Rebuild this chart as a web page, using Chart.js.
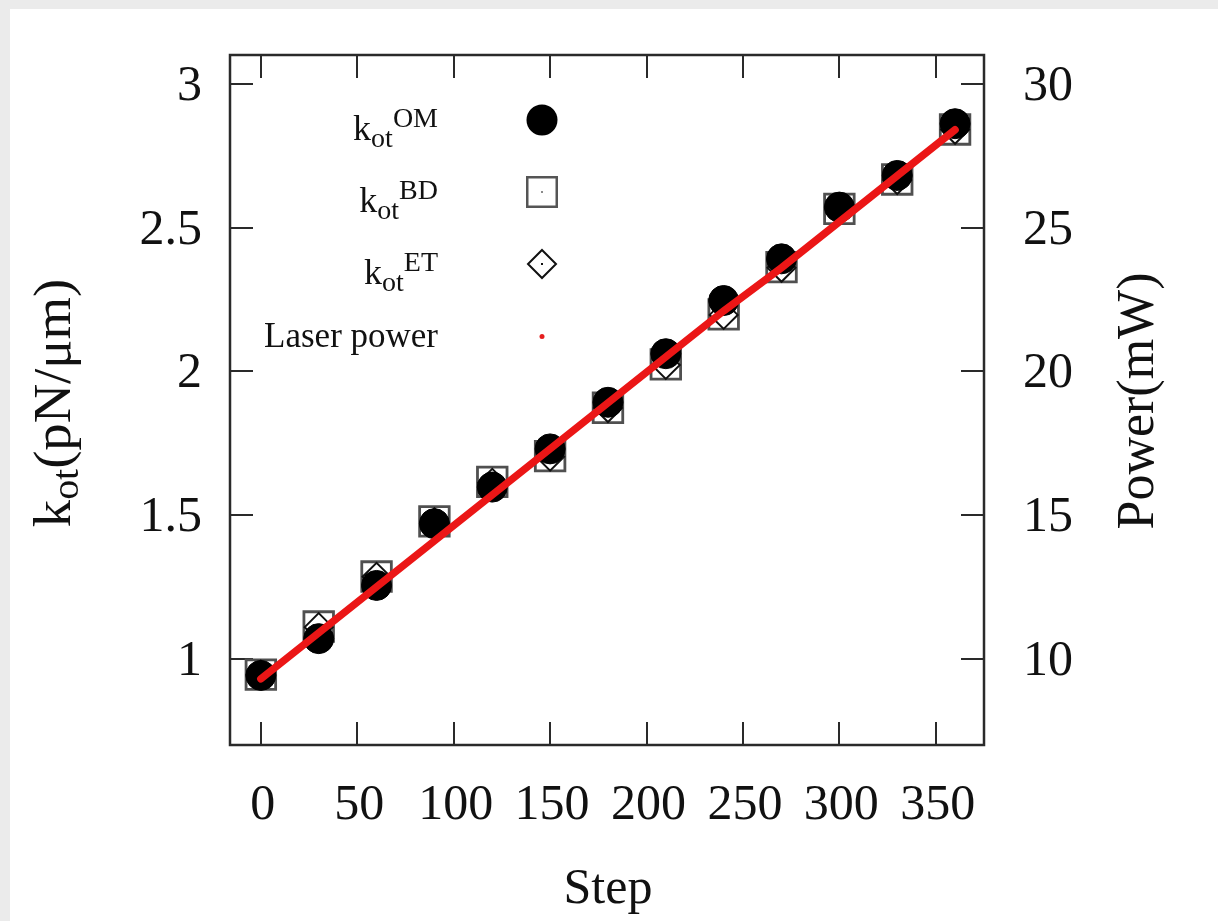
<!DOCTYPE html>
<html><head><meta charset="utf-8">
<script src="https://cdn.jsdelivr.net/npm/chart.js@4.4.0/dist/chart.umd.min.js"></script>
<style>html,body{margin:0;padding:0;background:#fff;overflow:hidden}canvas{display:block}</style>
</head><body>
<canvas id="c" width="1218" height="921"></canvas>
<script>
// ---- data ----
const steps = [0, 30, 60, 90, 120, 150, 180, 210, 240, 270, 300, 330, 360];
const kOM = [0.942, 1.07, 1.255, 1.47, 1.597, 1.73, 1.892, 2.061, 2.246, 2.391, 2.571, 2.681, 2.861];
const kBD = [0.945, 1.112, 1.286, 1.478, 1.615, 1.705, 1.873, 2.024, 2.198, 2.362, 2.565, 2.667, 2.841];
const kET = [0.945, 1.11, 1.285, 1.475, 1.612, 1.703, 1.872, 2.022, 2.196, 2.36, 2.565, 2.665, 2.84];
const laserPower = [9.3, 10.9, 12.5, 14.1, 15.7, 17.3, 18.9, 20.5, 22.1, 23.6, 25.2, 26.8, 28.4];
const xTicks = [0, 50, 100, 150, 200, 250, 300, 350];
const yTicks = [1, 1.5, 2, 2.5, 3];
const y2Ticks = [10, 15, 20, 25, 30];
const xTitle = 'Step';
const y2Title = 'Power(mW)';
const legendNames = ['OM', 'BD', 'ET'];
const laserLabel = 'Laser power';

const SERIF = '"Liberation Serif", "Times New Roman", serif';
const pts = (ys) => steps.map((s, i) => ({x: s, y: ys[i]}));

function richWidth(ctx, parts) {
  let w = 0;
  for (const p of parts) { ctx.font = p.size + 'px ' + SERIF; w += ctx.measureText(p.t).width; }
  return w;
}
function drawRich(ctx, parts, x, y, align) {
  const w = richWidth(ctx, parts);
  let cx = align === 'right' ? x - w : (align === 'center' ? x - w / 2 : x);
  ctx.textAlign = 'left';
  ctx.textBaseline = 'alphabetic';
  for (const p of parts) {
    ctx.font = p.size + 'px ' + SERIF;
    ctx.fillText(p.t, cx, y + (p.dy || 0));
    cx += ctx.measureText(p.t).width;
  }
}

const framePlugin = {
  id: 'frame',
  beforeDraw(chart) {
    const ctx = chart.ctx;
    ctx.save();
    ctx.fillStyle = '#ebebeb';
    ctx.fillRect(0, 0, chart.width, chart.height);
    ctx.fillStyle = '#ffffff';
    ctx.fillRect(10, 9, chart.width - 10, chart.height - 9);
    ctx.restore();
  },
  beforeDatasetsDraw(chart) {
    const ctx = chart.ctx, a = chart.chartArea;
    const sx = chart.scales.x, sy = chart.scales.y, sy2 = chart.scales.y2;
    const T = 23;
    ctx.save();
    ctx.strokeStyle = '#2a2a2a';
    ctx.lineWidth = 2;
    ctx.beginPath();
    for (const v of xTicks) {
      const px = Math.round(sx.getPixelForValue(v));
      ctx.moveTo(px, a.bottom); ctx.lineTo(px, a.bottom - T);
      ctx.moveTo(px, a.top); ctx.lineTo(px, a.top + T);
    }
    for (const v of yTicks) {
      const py = Math.round(sy.getPixelForValue(v));
      ctx.moveTo(a.left, py); ctx.lineTo(a.left + T, py);
    }
    for (const v of y2Ticks) {
      const py = Math.round(sy2.getPixelForValue(v));
      ctx.moveTo(a.right, py); ctx.lineTo(a.right - T, py);
    }
    ctx.stroke();
    ctx.lineWidth = 2.5;
    ctx.strokeRect(a.left, a.top, a.right - a.left, a.bottom - a.top);
    ctx.restore();
  },
  afterDraw(chart) {
    const ctx = chart.ctx, a = chart.chartArea;
    ctx.save();
    ctx.fillStyle = '#111';
    // x title
    drawRich(ctx, [{t: xTitle, size: 50}], (a.left + a.right) / 2 + 1, 903, 'center');
    // left title
    ctx.save();
    ctx.translate(70, (a.top + a.bottom) / 2 + 3);
    ctx.rotate(-Math.PI / 2);
    ctx.scale(1.05, 1);
    drawRich(ctx, [{t: 'k', size: 52}, {t: 'ot', size: 38, dy: 8}, {t: '(pN/\u03BCm)', size: 52}], 0, 0, 'center');
    ctx.restore();
    // right title
    ctx.save();
    ctx.translate(1153, (a.top + a.bottom) / 2 + 1);
    ctx.rotate(-Math.PI / 2);
    drawRich(ctx, [{t: y2Title, size: 52}], 0, 0, 'center');
    ctx.restore();

    // legend
    const tx = 438, mx = 542;
    const rows = [120, 192, 264, 336.5];
    for (let i = 0; i < 3; i++) {
      drawRich(ctx, [{t: 'k', size: 36}, {t: 'ot', size: 28, dy: 7}, {t: legendNames[i], size: 28, dy: -13}], tx, rows[i] + 20, 'right');
    }
    drawRich(ctx, [{t: laserLabel, size: 35}], tx, rows[3] + 10, 'right');
    // legend markers
    ctx.fillStyle = '#000';
    ctx.beginPath(); ctx.arc(mx, rows[0], 15.5, 0, Math.PI * 2); ctx.fill();
    ctx.strokeStyle = '#555'; ctx.lineWidth = 2.5;
    ctx.strokeRect(mx - 14.75, rows[1] - 14.75, 29.5, 29.5);
    ctx.fillStyle = '#333'; ctx.fillRect(mx - 0.75, rows[1] - 0.75, 1.5, 1.5);
    ctx.strokeStyle = '#111'; ctx.lineWidth = 2;
    ctx.beginPath();
    ctx.moveTo(mx, rows[2] - 14); ctx.lineTo(mx + 14, rows[2]); ctx.lineTo(mx, rows[2] + 14); ctx.lineTo(mx - 14, rows[2]); ctx.closePath();
    ctx.stroke();
    ctx.fillStyle = '#111'; ctx.fillRect(mx - 1, rows[2] - 1, 2, 2);
    ctx.fillStyle = 'rgb(230,30,30)';
    ctx.beginPath(); ctx.arc(mx, rows[3], 2.5, 0, Math.PI * 2); ctx.fill();
    ctx.restore();
  }
};

const noPad = s => { s.paddingTop = 0; s.paddingBottom = 0; s.paddingLeft = 0; s.paddingRight = 0; };
const tickFont = {family: SERIF, size: 50};
new Chart(document.getElementById('c'), {
  type: 'scatter',
  data: {
    datasets: [
      {label: 'kotBD', data: pts(kBD), yAxisID: 'y', order: 4, pointStyle: 'rect', pointRadius: 20.9, pointHoverRadius: 20.9,
       borderColor: '#505050', backgroundColor: 'rgba(0,0,0,0)', borderWidth: 2.8, pointBorderWidth: 2.8},
      {label: 'kotET', data: pts(kET), yAxisID: 'y', order: 3, pointStyle: 'rectRot', pointRadius: 14, pointHoverRadius: 14,
       borderColor: '#111', backgroundColor: 'rgba(0,0,0,0)', borderWidth: 2, pointBorderWidth: 2},
      {label: 'kotOM', data: pts(kOM), yAxisID: 'y', order: 2, pointStyle: 'circle', pointRadius: 15, pointHoverRadius: 15,
       borderColor: '#000', backgroundColor: '#000', borderWidth: 1, pointBorderWidth: 1},
      {label: laserLabel, data: pts(laserPower), yAxisID: 'y2', order: 1, showLine: true, pointRadius: 0, pointHoverRadius: 0,
       borderColor: 'rgb(235,22,22)', backgroundColor: 'rgb(235,22,22)', borderWidth: 7.5, tension: 0, borderCapStyle: 'round'}
    ]
  },
  options: {
    responsive: false,
    animation: false,
    events: [],
    layout: {padding: {top: 55, left: 0, right: 0, bottom: 0}},
    plugins: {legend: {display: false}, tooltip: {enabled: false}},
    scales: {
      x: {type: 'linear', position: 'bottom', min: -16, max: 375,
          afterBuildTicks: s => { s.ticks = xTicks.map(v => ({value: v})); },
          afterFit: s => { s.height = 176; noPad(s); },
          grid: {display: false, drawTicks: false}, border: {display: false},
          ticks: {font: tickFont, color: '#111', padding: 31, labelOffset: 2, maxRotation: 0, autoSkip: false, callback: v => String(v)}},
      y: {type: 'linear', position: 'left', min: 0.7, max: 3.1,
          afterBuildTicks: s => { s.ticks = yTicks.map(v => ({value: v})); },
          afterFit: s => { s.width = 230; noPad(s); },
          grid: {display: false, drawTicks: false}, border: {display: false},
          ticks: {font: tickFont, color: '#111', padding: 28, labelOffset: 3, autoSkip: false, callback: v => String(v)}},
      y2: {type: 'linear', position: 'right', min: 7, max: 31,
          afterBuildTicks: s => { s.ticks = y2Ticks.map(v => ({value: v})); },
          afterFit: s => { s.width = 234; noPad(s); },
          grid: {display: false, drawTicks: false}, border: {display: false},
          ticks: {font: tickFont, color: '#111', padding: 39, labelOffset: 3, autoSkip: false, callback: v => String(v)}}
    }
  },
  plugins: [framePlugin]
});
</script>
</body></html>
